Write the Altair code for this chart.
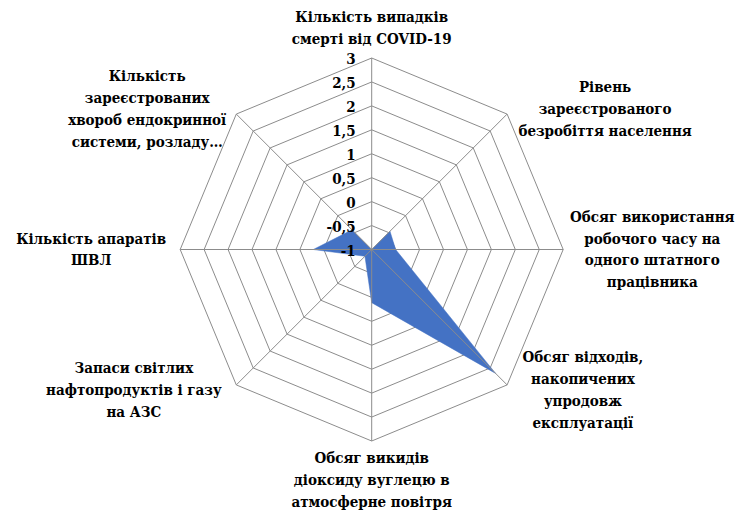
import altair as alt
import pandas as pd
import numpy as np

# ---- data ----
categories = [
    "Кількість випадків\nсмерті від  COVID-19",
    "Рівень\nзареєстрованого\nбезробіття населення",
    "Обсяг використання\nробочого часу на\nодного штатного\nпрацівника",
    "Обсяг відходів,\nнакопичених\nупродовж\nексплуатації",
    "Обсяг викидів\nдіоксиду вуглецю в\nатмосферне повітря",
    "Запаси світлих\nнафтопродуктів і газу\nна АЗС",
    "Кількість апаратів\nШВЛ",
    "Кількість\nзареєстрованих\nхвороб ендокринної\nсистеми, розладу…",
]
values = [-1.0, -0.46, -0.5, 2.66, 0.11, -0.8, 0.22, -0.42]
ticks = [-1, -0.5, 0, 0.5, 1, 1.5, 2, 2.5, 3]
tick_labels = ["-1", "-0,5", "0", "0,5", "1", "1,5", "2", "2,5", "3"]

# ---- layout / style ----
W, H = 733, 503
CX, CY = 363.7, 241.5      # pixel position of the centre inside the view
U = 47.875                 # pixels per axis unit
RMIN = ticks[0]
RMAX = ticks[-1] - RMIN
N = len(categories)
FONT = "'DejaVu Serif Condensed', 'DejaVu Serif', serif"
FS = 15
LH = 21.8
GRID = "#8c8c8c"
FILL = "#4472C4"

xscale = alt.Scale(domain=[-CX / U, (W - CX) / U], nice=False, zero=False)
yscale = alt.Scale(domain=[-(H - CY) / U, CY / U], nice=False, zero=False)

def polar(chart, rexpr):
    return (chart
            .transform_calculate(ang=f"datum.idx * 2 * PI / {N}")
            .transform_calculate(rr=rexpr)
            .transform_calculate(px="datum.rr * sin(datum.ang)")
            .transform_calculate(py="datum.rr * cos(datum.ang)"))

X = alt.X("px:Q", scale=xscale, axis=None)
Y = alt.Y("py:Q", scale=yscale, axis=None)

# rings
ring_df = pd.DataFrame([(t, i) for t in ticks[1:] for i in range(N)], columns=["tick", "idx"])
rings = polar(alt.Chart(ring_df), f"datum.tick - ({RMIN})").mark_line(
    interpolate="linear-closed", stroke=GRID, strokeWidth=1
).encode(x=X, y=Y, detail="tick:N", order="idx:Q")

# series polygon
ser_df = pd.DataFrame({"idx": range(N), "value": values})
poly = polar(alt.Chart(ser_df), f"datum.value - ({RMIN})").mark_line(
    interpolate="linear-closed", fill=FILL, stroke=FILL, strokeWidth=0.5, fillOpacity=1
).encode(x=X, y=Y, order="idx:Q")

# spokes
spk_df = pd.DataFrame({"idx": range(N)})
spokes = (alt.Chart(spk_df)
          .transform_calculate(ang=f"datum.idx * 2 * PI / {N}")
          .transform_calculate(ex=f"{RMAX} * sin(datum.ang)")
          .transform_calculate(ey=f"{RMAX} * cos(datum.ang)")
          .transform_calculate(z="0")
          .mark_rule(stroke=GRID, strokeWidth=1)
          .encode(x=alt.X("z:Q", scale=xscale, axis=None),
                  y=alt.Y("z:Q", scale=yscale, axis=None),
                  x2="ex:Q", y2="ey:Q"))

# tick labels
tk_df = pd.DataFrame({"tick": ticks, "label": tick_labels, "idx": 0})
tlabels = polar(alt.Chart(tk_df), f"datum.tick - ({RMIN})").mark_text(
    align="right", baseline="middle", dx=-16, dy=1, font=FONT, fontSize=FS,
    fontWeight="bold", color="black"
).encode(x=X, y=Y, text="label:N")

# category labels: anchored just outside each vertex, offset by estimated text size
rows = []
for i, c in enumerate(categories):
    lines = c.split("\n")
    a = i * 2 * np.pi / N
    s, co = np.sin(a), np.cos(a)
    vx, vy = RMAX * s, RMAX * co
    w = max(len(l) for l in lines) * 8.9
    h = len(lines) * LH
    if abs(s) < 1e-6:
        gap = 8.0 if co > 0 else 6.5
        lx, ly = vx, vy + np.sign(co) * (gap + h / 2) / U
    else:
        gap = 9.0
        lx = vx + np.sign(s) * (gap + w / 2) / U
        ly = vy + co * 7 / U
    # first line sits at the anchor: lift it so the whole block is centred
    ly += (len(lines) - 1) * LH / 2 / U
    rows.append({"lx": lx, "ly": ly, "label": c})
lab_df = pd.DataFrame(rows)
clabels = alt.Chart(lab_df).mark_text(
    align="center", baseline="middle", lineBreak="\n", lineHeight=LH,
    font=FONT, fontSize=FS, fontWeight="bold", color="black"
).encode(x=alt.X("lx:Q", scale=xscale, axis=None),
         y=alt.Y("ly:Q", scale=yscale, axis=None),
         text="label:N")

chart = alt.layer(rings, poly, spokes, tlabels, clabels).properties(
    width=W, height=H, autosize="none", padding=0
).configure_view(stroke=None)

chart.save("out.html", embed_options={"renderer": "svg", "actions": False})
